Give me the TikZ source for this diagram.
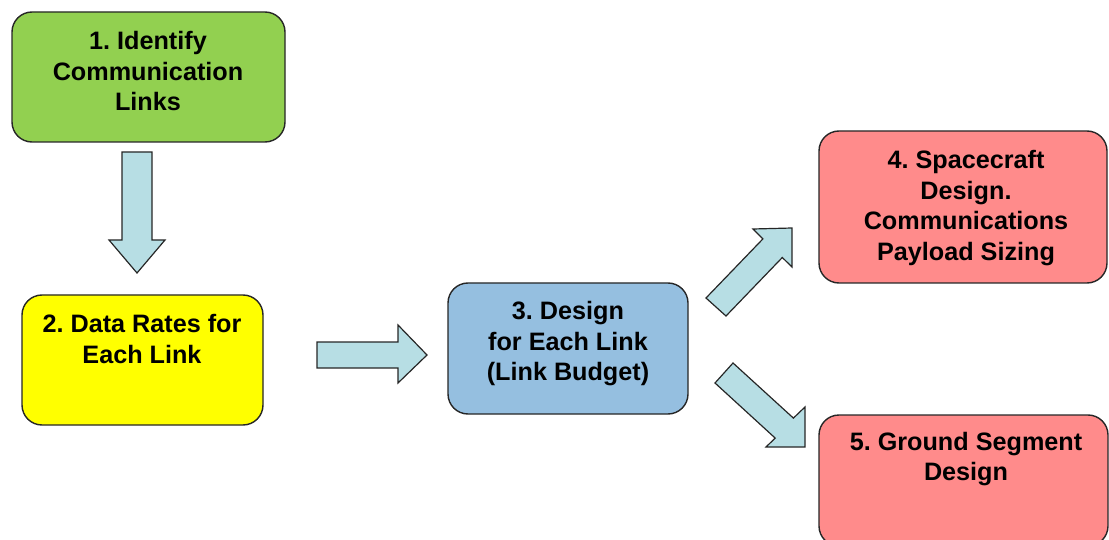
\documentclass[tikz,border=0pt]{standalone}
\usepackage{fontspec}
\setmainfont{Liberation Sans}
\frenchspacing
\begin{document}
\begin{tikzpicture}[x=1pt,y=-1pt,
  stepbox/.style={draw=black!85,line width=1.4pt,rounded corners=20pt,inner sep=0pt},
  steptext/.style={font=\bfseries\fontsize{25.2}{30.5}\selectfont,align=center,inner sep=0pt},
  blockarrow/.style={draw=black!85,line width=1.2pt,fill=arrowfill,line join=miter}]
\definecolor{greenbox}{RGB}{146,208,80}
\definecolor{yellowbox}{RGB}{255,255,0}
\definecolor{bluebox}{RGB}{149,191,224}
\definecolor{redbox}{RGB}{255,139,139}
\definecolor{arrowfill}{RGB}{183,222,228}
\useasboundingbox (0,0) rectangle (1109,540);
\clip (0,0) rectangle (1109,540);

% process boxes
\node[stepbox,fill=greenbox,minimum width=273pt,minimum height=130pt] (b1) at (148.5,77) {};
\node[stepbox,fill=yellowbox,minimum width=241pt,minimum height=130pt] (b2) at (142.5,360) {};
\node[stepbox,fill=bluebox,minimum width=240pt,minimum height=131pt] (b3) at (568,348.5) {};
\node[stepbox,fill=redbox,minimum width=288pt,minimum height=152pt] (b4) at (963,207) {};
\node[stepbox,fill=redbox,minimum width=289pt,minimum height=131pt] (b5) at (963.5,480.5) {};

% labels
\node[steptext] (t1) at (148,71) {1. Identify\\Communication\\Links};
\node[steptext] (t2) at (142,339) {2. Data Rates for\\Each Link};
\node[steptext] (t3) at (568,344) {3. Design\\for Each Link\\(Link Budget)};
\node[steptext] (t4) at (966,208) {4. Spacecraft\\Design.\\Communications\\Payload Sizing};
\node[steptext] (t5) at (966,459) {5. Ground Segment\\Design};

% block arrows between the steps
\draw[blockarrow] (122,152) -- (152,152) -- (152,240) -- (165,240) -- (137,273)
  -- (109,240) -- (122,240) -- cycle;
\draw[blockarrow] (317,342) -- (398,342) -- (398,325) -- (427,355) -- (398,383)
  -- (398,368) -- (317,368) -- cycle;
\draw[blockarrow] (706,298) -- (762.9,238.9) -- (753,229) -- (792,228) -- (792,267)
  -- (782.3,257.5) -- (726,316) -- cycle;
\draw[blockarrow] (715,383) -- (775.2,438.1) -- (766,447) -- (805,447) -- (805,407)
  -- (793.4,418.1) -- (733,363) -- cycle;
\end{tikzpicture}
\end{document}
